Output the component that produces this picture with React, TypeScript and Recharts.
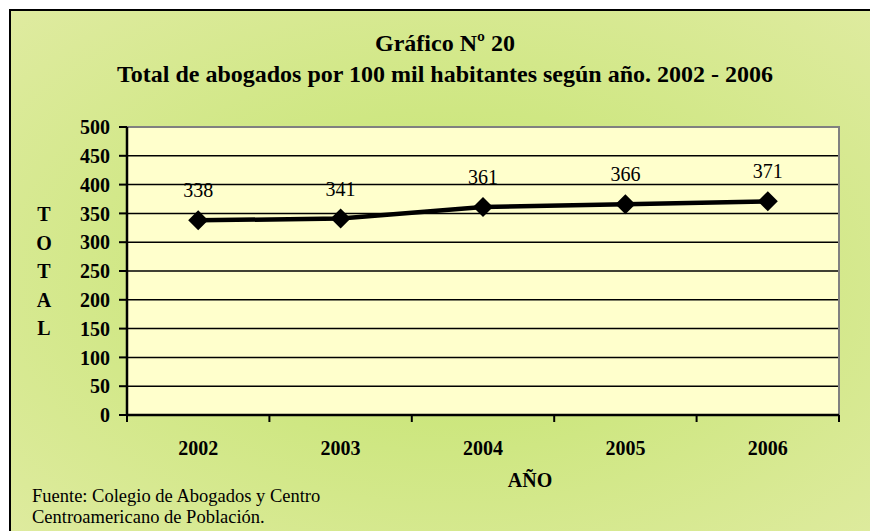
import React from "react";
import { LineChart, Line, XAxis, YAxis, CartesianGrid, ReferenceArea, LabelList } from "recharts";

// Total de abogados por 100 mil habitantes
const years = ["2002", "2003", "2004", "2005", "2006"];
const totals = [338, 341, 361, 366, 371];
const yTicks = [0, 50, 100, 150, 200, 250, 300, 350, 400, 450, 500];
const yLetters = ["T", "O", "T", "A", "L"];

const chartData = years.map((y, i) => ({ year: y, total: totals[i] }));

const serif = '"Times New Roman", "Liberation Serif", serif';
const X_TICK_GAP = 26;
const X_TICK_LEN = 7;

const Diamond = (props: any) => {
  const { cx, cy } = props;
  if (cx == null || cy == null) return null;
  const r = 10;
  return <polygon points={`${cx},${cy - r} ${cx + r},${cy} ${cx},${cy + r} ${cx - r},${cy}`} fill="#000" />;
};

const ValueLabel = (props: any) => {
  const { x, y, value } = props;
  return (
    <text x={x} y={y - 23} textAnchor="middle" fontFamily={serif} fontSize={20} fill="#000">
      {value}
    </text>
  );
};

// year label at band centre, tick marks at the band edges (Excel style)
const YearTick = (props: any) => {
  const { x, y, payload, index, visibleTicksCount } = props;
  const half = payload?.offset ?? 0;
  const axisY = y - X_TICK_GAP;
  const last = index === visibleTicksCount - 1;
  return (
    <g>
      <line x1={x - half} x2={x - half} y1={axisY} y2={axisY + X_TICK_LEN} stroke="#000" strokeWidth={2} />
      {last && <line x1={x + half} x2={x + half} y1={axisY} y2={axisY + X_TICK_LEN} stroke="#000" strokeWidth={2} />}
      <text x={x} y={y} dy="0.71em" textAnchor="middle" fontFamily={serif} fontWeight="bold" fontSize={20} fill="#000">
        {payload.value}
      </text>
    </g>
  );
};

export default function App() {
  return (
    <div style={{ position: "absolute", left: 0, top: 0, width: 870, height: 531, overflow: "hidden", background: "#fff" }}>
      <div
        style={{
          position: "absolute",
          left: 9,
          top: 9,
          width: 880,
          height: 540,
          border: "2px solid #000",
          background: "radial-gradient(ellipse at 50% 50%, #c3e46a 0%, #cfe783 45%, #dfeba0 100%)",
        }}
      />
      <div style={{ position: "absolute", left: 0, top: 28, width: 890, textAlign: "center", fontFamily: serif, fontWeight: "bold", fontSize: 24, lineHeight: "31px", color: "#000" }}>
        Gráfico Nº 20
        <br />
        Total de abogados por 100 mil habitantes según año. 2002 - 2006
      </div>
      {yLetters.map((l, i) => (
        <div key={i} style={{ position: "absolute", left: 30, width: 28, top: 200 + i * 28.5, textAlign: "center", fontFamily: serif, fontWeight: "bold", fontSize: 20, lineHeight: "28px", color: "#000" }}>
          {l}
        </div>
      ))}
      <div style={{ position: "absolute", left: 480, width: 100, top: 467, textAlign: "center", fontFamily: serif, fontWeight: "bold", fontSize: 20, lineHeight: "26px", color: "#000" }}>
        AÑO
      </div>
      <div style={{ position: "absolute", left: 32, top: 486, fontFamily: serif, fontSize: 18.5, lineHeight: "21px", color: "#000" }}>
        Fuente: Colegio de Abogados y Centro
        <br />
        Centroamericano de Población.
      </div>
      <div style={{ position: "absolute", left: 0, top: 0 }}>
        <LineChart width={870} height={531} data={chartData} margin={{ top: 127, right: 31, left: 0, bottom: 86 }}>
          <CartesianGrid vertical={false} stroke="#000" strokeWidth={1.5} fill="#ffffcc" fillOpacity={1} />
          <ReferenceArea y1={0} y2={500} fill="none" stroke="#808080" strokeWidth={2} />
          <XAxis
            dataKey="year"
            scale="band"
            height={30}
            interval={0}
            tickLine={false}
            tickSize={0}
            tickMargin={X_TICK_GAP}
            axisLine={{ stroke: "#000", strokeWidth: 2.5 }}
            tick={<YearTick />}
          />
          <YAxis
            width={127}
            domain={[0, 500]}
            ticks={yTicks}
            interval={0}
            tickSize={8}
            tickMargin={9}
            tickLine={{ stroke: "#000", strokeWidth: 2 }}
            axisLine={{ stroke: "#000", strokeWidth: 2.5 }}
            tick={{ fill: "#000", fontFamily: serif, fontWeight: "bold", fontSize: 20 }}
          />
          <Line
            dataKey="total"
            stroke="#000"
            strokeWidth={4.5}
            dot={<Diamond />}
            activeDot={false}
            isAnimationActive={false}
          >
            <LabelList dataKey="total" content={<ValueLabel />} />
          </Line>
        </LineChart>
      </div>
    </div>
  );
}
